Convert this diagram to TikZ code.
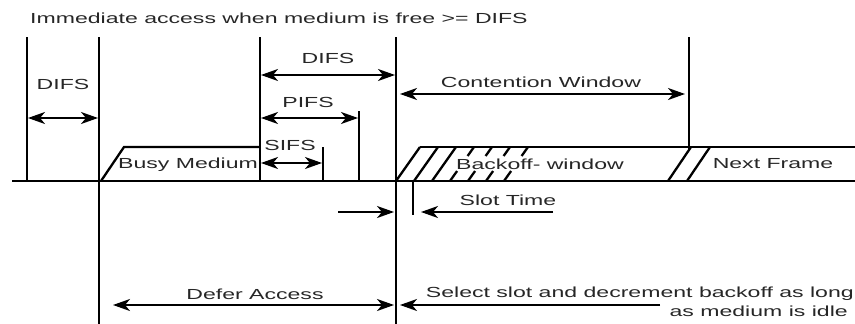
\documentclass[tikz,border=0pt]{standalone}
\usepackage{fontspec}
\setmainfont{Liberation Sans}[FakeStretch=1.58]
\usetikzlibrary{arrows.meta}
\begin{document}
\begin{tikzpicture}[x=1pt,y=-1pt,
  >={Stealth[length=17pt,width=12pt,inset=5pt]},
  vline/.style={line width=2.8pt},
  baseln/.style={line width=2.3pt},
  hatch/.style={line width=2.3pt},
  dimarrow/.style={line width=2pt},
  lbl/.style={font=\fontsize{14.6}{17}\selectfont, inner sep=0pt, text=black!85}]
\useasboundingbox (0,0) rectangle (855,324);

% key coordinates
\coordinate (v1t) at (27,37);  \coordinate (v1b) at (27,181);
\coordinate (v2t) at (99,37);  \coordinate (v2b) at (99,324);
\coordinate (v3t) at (260,37); \coordinate (v3b) at (260,181);
\coordinate (v4t) at (396,37); \coordinate (v4b) at (396,324);
\coordinate (v5t) at (689,37); \coordinate (v5b) at (689,150);
\coordinate (pifst) at (359,111); \coordinate (pifsb) at (359,181);
\coordinate (sifst) at (323,147); \coordinate (sifsb) at (323,181);
\coordinate (slott) at (413,181); \coordinate (slotb) at (413,215);

% baseline and frames
\draw[baseln] (12,181) -- (855,181);
\draw[baseln] (101,181) -- (124,147) -- (260,147);
\draw[baseln] (420,147) -- (855,147);

% vertical lines
\draw[vline] (v1t) -- (v1b);
\draw[vline] (v2t) -- (v2b);
\draw[vline] (v3t) -- (v3b);
\draw[vline] (v4t) -- (v4b);
\draw[vline] (v5t) -- (v5b);
\draw[vline] (pifst) -- (pifsb);
\draw[vline] (sifst) -- (sifsb);
\draw[vline] (slott) -- (slotb);

% backoff hatching
\foreach \k in {0,1,2}{
  \draw[hatch] ({396+18*\k},181) -- ({420+18*\k},147);
}
\foreach \k in {3,4,5,6}{
  \draw[hatch] ({396+18*\k},181) -- ({396+18*\k+7.1},171);
  \draw[hatch] ({396+18*\k+17.6},156) -- ({420+18*\k},147);
}
% next frame slashes
\draw[hatch] (668,181) -- (691,147);
\draw[hatch] (687,181) -- (710,147);

% labels
\node[lbl, anchor=west] (title) at (30,18) {Immediate access when medium is free >= DIFS};
\node[lbl] (difsl) at (63,84) {DIFS};
\node[lbl] (difst) at (328,58) {DIFS};
\node[lbl] (pifs) at (308,102) {PIFS};
\node[lbl] (sifs) at (290,145) {SIFS};
\node[lbl] (cw) at (541,82) {Contention Window};
\node[lbl] (busy) at (188,165) {Busy Medium};
\node[lbl] (backoff) at (540,164) {Backoff- window};
\node[lbl] (next) at (773,164) {Next Frame};
\node[lbl] (slot) at (508,200) {Slot Time};
\node[lbl] (defer) at (255,294) {Defer Access};
\node[lbl, anchor=east] (sel1) at (854,294) {Select slot and decrement backoff as long};
\node[lbl, anchor=east] (sel2) at (848,311) {as medium is idle};

% dimension arrows
\coordinate (a1l) at (28,118);  \coordinate (a1r) at (98,118);
\coordinate (a2l) at (261,75);  \coordinate (a2r) at (395,75);
\coordinate (a3l) at (261,118); \coordinate (a3r) at (358,118);
\coordinate (a4l) at (261,163); \coordinate (a4r) at (322,163);
\coordinate (a5l) at (400,94);  \coordinate (a5r) at (685,94);
\coordinate (a6l) at (338,212); \coordinate (a6r) at (394,212);
\coordinate (a7l) at (421,212); \coordinate (a7r) at (553,212);
\coordinate (a8l) at (113,305); \coordinate (a8r) at (394,305);
\coordinate (a9l) at (400,305); \coordinate (a9r) at (660,305);

\draw[dimarrow,<->] (a1l) -- (a1r);
\draw[dimarrow,<->] (a2l) -- (a2r);
\draw[dimarrow,<->] (a3l) -- (a3r);
\draw[dimarrow,<->] (a4l) -- (a4r);
\draw[dimarrow,<->] (a5l) -- (a5r);
\draw[dimarrow,->] (a6l) -- (a6r);
\draw[dimarrow,->] (a7r) -- (a7l);
\draw[dimarrow,<->] (a8l) -- (a8r);
\draw[dimarrow,->] (a9r) -- (a9l);
\end{tikzpicture}
\end{document}
